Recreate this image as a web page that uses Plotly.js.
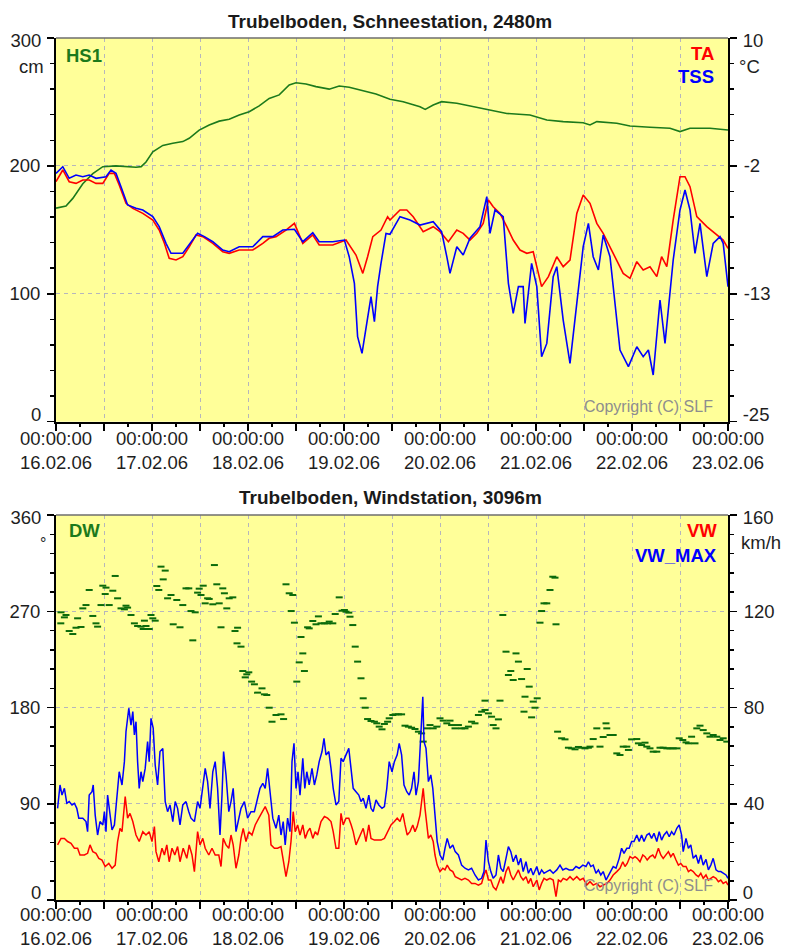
<!DOCTYPE html>
<html>
<head>
<meta charset="utf-8">
<script src="https://cdn.plot.ly/plotly-3.0.1.min.js"></script>
<style>html,body{margin:0;padding:0;background:#fff;}#chart{width:785px;height:948px;}</style>
</head>
<body>
<div id="chart"></div>
<script>
// ---------- DATA (hours since 16.02.06 00:00) ----------
const dayLabels = ['16.02.06','17.02.06','18.02.06','19.02.06','20.02.06','21.02.06','22.02.06','23.02.06'];

// Snow station: HS1 snow height (cm)
const hs1Hours = [0,2.5,4.2,6.7,9.2,11.7,15,20,21.3,22.5,24.2,26.7,29.2,31.7,33.3,35.8,38.3,40.8,43.3,45.8,48.3,50.8,53.3,55.8,58.3,60,62.5,65,68.3,70.8,73.3,76.7,80,83.5,86.8,91,92.3,94.3,96.4,100.2,104.3,108.5,112.7,118.5,122.7,126.8,131.8,133.5,135.2,140.2,143.5,148.5,153.5,156,158.5,163.5,168];
const hs1Values = [167,168.7,174.6,186,194,199.4,200,199,199.4,203,211,216,217.7,219,221.6,228,232,235,236.4,239.8,242.4,246.9,252.8,255.5,263.3,265,264,262,260,262.5,261.5,258.8,256.2,252.1,250.2,246.3,244.2,247.6,250.2,249,246.3,243.2,241,239.8,235.9,234.6,233.8,232,234.6,233.3,231.2,230.2,229.4,226.8,229.4,229.4,228.1];

// TA air temperature (°C)
const taHours = [0,1.7,3.3,5,6.7,8.3,10,11.7,13.3,14.6,15.8,17.5,19.2,21.7,24.2,25.8,27.1,28.3,30,31.7,33.3,35,36.7,39.2,41.7,43.3,45.8,49.2,51.7,53.3,55,57.5,59.6,61.7,64.2,65.8,69.2,72.5,75,76.7,77.9,79.2,81.25,82.9,
  83.5,86,87.7,89.3,91.8,94.3,96,98.1,100.2,101.8,103.5,105.2,106.8,108.1,109.3,111,112.7,114.3,116,117.7,119.3,121.4,123.1,125.2,126.8,128.5,130.2,131.8,133.5,135.2,136.8,139.3,141.8,143.5,145.2,146.8,148.5,150.2,151.4,152.7,154.3,156,157.25,158.5,160.2,162.7,165.2,166.8,168];
const taValues = [-3.11,-2.04,-3.11,-3.26,-2.95,-2.95,-3.26,-3.26,-2.35,-2.35,-3.41,-5.08,-5.54,-6.0,-6.6,-7.52,-8.73,-10.1,-10.25,-9.95,-9.04,-7.97,-8.12,-8.73,-9.49,-9.64,-9.34,-9.34,-8.73,-8.27,-8.12,-7.52,-6.91,-8.73,-7.97,-8.88,-8.88,-8.43,-9.8,-11.47,-9.95,-8.12,-7.52,-6.3,
  -6.6,-5.69,-5.69,-6.3,-7.67,-7.21,-7.67,-8.58,-7.52,-7.82,-8.43,-7.82,-6.91,-4.78,-5.39,-6.0,-7.21,-8.43,-9.34,-9.64,-9.49,-12.68,-11.77,-9.95,-10.86,-10.25,-6.0,-4.32,-5.08,-6.91,-7.82,-9.64,-11.47,-11.92,-10.4,-11.16,-10.86,-11.77,-9.95,-10.86,-6.6,-2.65,-2.65,-3.56,-6.3,-7.21,-7.97,-8.43,-9.19];

// TSS snow surface temperature (°C)
const tssHours = [0,1.7,3.3,5,6.7,8.3,10,12.5,13.75,15,16.25,17.9,20,21.7,24.2,25.8,27.5,28.75,31.7,33.3,35.4,37.1,39.2,41.7,43.3,45.8,49.2,51.7,54.2,56.7,59.6,61.7,64.2,65.8,69.2,72.1,73.3,74.6,75.4,76.5,77.5,78.75,79.6,80.4,81.25,82.5,
  83.5,86,88.5,91,94.3,96.4,97.7,98.5,100.2,101.8,103.5,106,107.7,108.5,109.75,111.8,113.1,114.3,115.6,116.8,117.25,118.9,120.2,121.4,122.7,124.3,125.2,126.8,128.5,130.2,131.8,133.1,134.3,135.6,136.8,138.5,141,143.1,145.2,146.8,148.1,149.3,151,152.25,154.3,156,157.25,158.5,159.75,161,162.7,164.3,166,166.8,168];
const tssValues = [-2.35,-1.74,-2.8,-2.5,-2.65,-2.5,-2.8,-2.65,-2.04,-2.35,-3.56,-5.23,-5.54,-5.69,-6.3,-7.21,-8.73,-9.64,-9.64,-8.88,-7.82,-8.12,-8.58,-9.34,-9.49,-9.04,-9.04,-8.12,-8.12,-7.52,-7.45,-8.58,-7.76,-8.58,-8.58,-8.43,-9.95,-12.38,-17.25,-18.77,-16.64,-13.6,-15.88,-12.68,-10.56,-7.82,
  -7.9,-6.3,-6.6,-7.06,-6.76,-7.67,-9.95,-11.47,-9.04,-9.8,-8.27,-7.21,-4.47,-7.82,-5.69,-6.3,-12.38,-15.12,-12.68,-12.68,-16.03,-10.56,-12.68,-19.07,-17.86,-11.77,-10.86,-15.73,-19.68,-14.2,-9.04,-6.91,-9.95,-11.16,-7.97,-9.95,-18.46,-19.98,-18.16,-19.07,-18.46,-20.74,-13.9,-17.86,-10.25,-5.69,-3.87,-5.69,-9.64,-6.91,-11.77,-8.73,-8.12,-8.73,-12.68];

// Wind station: DW wind direction (°)
const dwHours = [1.25,2.1,2.5,1.2,3.3,4.2,5,5.4,6.25,6.7,
  7.5,8.3,9.2,10,10.4,11.25,11.7,12.3,12.5,13.3,
  14.2,14.8,15.4,16.25,17.1,17.5,17.9,18.75,19.6,20.4,
  21.25,21.8,22.1,22.5,23.3,23.75,24.2,24.8,25.2,25.7,
  26.25,27.3,26.8,27.9,28.75,29.3,30.2,31,31.7,32.5,
  33.2,33.75,34.2,34.8,35.4,35.8,36.25,36.8,37.3,37.9,
  38.3,39.2,39.6,40.2,40.8,41.25,41.7,42.1,42.7,43.3,
  44.2,44.75,45.4,45.25,46.25,46.7,47.3,47.7,48.2,48.9,
  49.6,50.4,51.5,52.1,52.7,53.3,54,55,56.25,56.9,
  57.5,58.3,59.2,58.8,59.6,60.2,60.8,61.25,61.7,62.1,
  62.9,63.3,64.2,65,65.6,66.25,67.1,67.9,68.3,69.2,
  69.8,70.8,71.5,72.1,72.5,73.2,73.5,74.2,74.8,75.4,
  76.25,76.8,77.3,77.9,78.75,79.6,80.2,80.8,81.5,82.1,
  82.9,83.3,84.2,84.8,
  85.6,86.4,87.25,88.1,88.9,89.75,90.6,91.4,91.8,92.7,
  93.5,94.3,95.2,96,96.8,97.7,98.5,98.9,99.75,100.6,
  101.4,102.25,103.1,103.9,104.75,105.6,106.4,107.25,107.25,108.1,
  108.9,109.3,110,110.6,111,111.7,112.5,113.1,113.7,114.3,
  115,115.6,116.4,117.25,117,117.8,118.3,118.9,119.3,119.75,
  120.3,121,121.4,122,122.7,123.5,124.2,124.75,125,125.4,
  126.4,127.25,128.1,128.9,129.75,130.6,131.4,132.25,133.1,133.5,
  134.3,135.2,136,136.8,137.5,137.7,138.5,139.3,140.2,141,
  141.8,142.7,143.1,143.9,145.2,145.6,146.4,147.25,147.7,148.5,
  149.3,150.2,151,151.8,152.7,153.5,154.3,155.2,155.8,156.7,
  157.5,158.1,158.9,159.75,160.2,161,161.8,162.7,163.5,164.3,
  165.2,166,166.8,167.7];
const dwValues = [269,264.3,266.5,258.7,251.5,248.7,254.6,263.4,255.3,272.7,
  275.8,289.9,265.6,258.7,255.6,275.8,293.9,286.1,292.1,275.8,
  289.2,303,282.1,272.7,271.8,275.2,273.4,266.5,258.7,256.2,
  255.6,253.4,261.2,256.2,253.4,266.5,263.4,261.2,293.6,289.9,
  311.7,308,299.8,282.1,285.2,257.8,280.5,255,275.8,291.4,
  291.4,270.2,242.8,269,287.4,291.1,285.2,293.9,277.4,282.1,
  281.5,276.5,313.2,295.2,277.4,255,291.4,286.8,272.7,282.1,
  283,251.5,254.6,240,236.9,214.1,208.2,211,212.9,204.2,
  201.7,193.9,197.9,192.3,191.7,179.8,166.7,173,173.6,169.2,
  295.2,286.8,285.2,270.2,259.3,204.2,222.2,245.9,230.6,214.1,
  255,254,260.9,257.8,265.2,258.7,258.7,258.7,260.3,258.7,
  267.4,283,270.5,271.2,269.6,268.7,264.9,257.1,236.9,222.9,
  207.3,188.6,179.8,169.2,167.4,166.7,165.2,162.1,159.6,164.6,
  166.7,169.9,173,173.6,
  173.6,173.6,163,162.1,161.1,159.9,157.4,155.8,148.1,160.5,
  163.6,160.5,162.1,169.9,167.7,165.2,167.7,163.6,160.5,163.6,
  160.5,160.5,162.1,166.7,165.2,173,176.1,177.7,186.4,174.5,
  171.4,163.6,160.5,168.9,186.4,266.5,232.2,210.4,214.1,205.7,
  230.6,222.9,206.6,190.1,176.1,216,199.5,170.8,185.5,179.8,
  188.6,259.3,270.2,277.4,277.4,289.9,302.3,301.4,257.8,157.4,
  151.2,150.2,142.4,141.8,140.9,143.1,142.4,141.8,142.4,143.4,
  150.5,160.5,143.4,152.4,165.2,160.5,154.3,154.3,137.1,135.6,
  143.4,143.4,140.3,150.2,150.5,146.5,144.9,147.1,143.4,141.8,
  138.7,138.7,142.4,142.4,141.8,141.8,141.8,141.8,151.2,149.6,
  147.4,146.5,152.7,146.5,160.5,163,158.9,155.8,152.7,154.3,
  152.7,149.6,151.2,148.1];

// VW mean wind speed (km/h)
const vwHours = [0.4,1.25,2.1,2.9,3.75,4.6,5.4,6,7.1,7.9,
  8.5,9.2,10,10.7,11.5,12.3,13.2,14,14.8,15.4,
  16,16.5,17.3,17.9,18.5,19.2,20,20.8,21.7,22.5,
  23.3,24,24.6,25,25.7,26.5,27.1,27.7,28.3,29,
  29.7,30.4,31,31.8,32.7,33.3,34,34.6,35.4,36,
  36.7,37.3,38.2,39,39.8,40.7,41.25,41.8,42.5,43.2,
  43.75,44.3,45,45.7,46.25,46.8,47.5,48.2,49,49.8,
  50.7,51.5,52.3,53.2,53.75,54.6,55.4,56.25,57.1,57.5,
  58.2,58.75,59.3,59.8,60.4,61,61.7,62.3,62.9,63.5,
  64.2,64.8,65.4,66.25,67.1,67.9,68.75,69.3,70,70.7,
  71.25,71.8,72.5,73.2,73.8,74.3,75,75.7,76.25,76.8,
  77.5,78.2,78.75,79.6,80.4,81.25,82.1,82.9,83.75,84.6,
  85.3,86,86.7,87.25,87.8,88.5,89.2,89.75,90.3,91,
  91.4,91.8,92.25,92.7,93.1,93.7,94.3,94.75,95.3,96,
  96.7,97.25,97.8,98.5,99.2,99.8,100.6,101.4,102.25,103.1,
  103.9,104.75,105.6,106.4,107,107.5,108.1,108.7,109.3,110,
  110.6,111.2,111.8,112.5,113.1,113.7,114.3,115,115.6,116.2,
  116.8,117.5,118.1,118.7,119.3,120.2,120.8,121.4,122,122.7,
  123.5,124.3,125,125.6,126.2,126.8,127.7,128.5,129.3,130.2,
  131,131.8,132.7,133.5,134.3,135.2,136,136.8,137.7,138.5,
  139.3,140.2,141,141.7,142.25,142.8,143.5,144.2,144.75,145.3,
  146,146.7,147.25,147.8,148.5,149.2,149.75,150.6,151.2,151.8,
  152.5,153.1,153.7,154.3,155,155.6,156.2,156.8,157.5,158.1,
  158.7,159.3,160,160.6,161.2,161.8,162.5,163.1,163.7,164.3,
  165,165.6,166.2,166.8,167.5,168];
const vwValues = [22.9,25.6,25.6,24.3,23.6,21.5,21.5,18.7,18.7,19.4,
  22.9,20.1,19.4,17.3,16.6,13.9,15.2,13.2,14.5,24.3,
  29.8,28.4,43,34,36,32.6,27,24.3,28.4,27,
  28.4,24.3,30.5,20.1,15.9,21.5,18.7,22.9,15.9,21.5,
  18.7,22.2,15.9,21.5,17.3,22.9,18.7,11.8,28.4,22.9,
  25.6,21.5,18.7,21.5,18.7,18.7,13.9,25.6,22.9,21.5,
  27,22.9,13.2,18.7,25.6,29.8,24.3,28.4,27,31.2,
  34,36.7,38.8,35.3,22.9,21.5,21.5,22.2,14.5,9.7,
  15.9,24.3,36.7,28.4,31.2,27,31.2,25.6,28.4,29.8,
  25.6,28.4,27,32.6,34.7,34,32.6,28.4,21.5,21.5,
  36,31.2,34,34,31.2,28.4,22.9,25.6,27,29.8,
  24.3,31.2,25.6,24.9,24.9,24.9,25.6,28.4,31.2,32.6,
  34,32.6,36,31.2,27,28.4,31.2,28.4,30.5,35.3,
  40.9,46.4,38.1,32.6,25.6,27,24.3,18.7,14.5,11.8,
  13.2,12.5,14.5,12.5,11.8,9.7,9,8.3,9,8.3,
  6.9,6.9,6.2,6.9,10.4,12.5,8.3,8.3,5.5,4.2,
  6.9,9.7,6.9,11.8,13.9,10.4,8.3,10.4,12.5,9.7,
  8.3,9.7,6.9,9,5.5,8.3,4.2,6.9,9,8.3,
  9,8.3,1.4,8.3,7.6,9,8.3,9.7,8.3,9.7,
  8.3,9,6.2,7.6,6.2,6.9,5.5,6.2,6.9,8.3,
  10.4,11.8,13.2,15.9,13.9,15.2,18,17.3,18,17.3,
  15.9,18.7,18,16.6,18,18.7,17.3,21.5,18.7,17.3,
  18.7,20.1,18,19.4,16.6,14.5,15.2,13.9,13.9,11.8,
  12.5,11.8,10.4,9.7,11.1,9,10.4,8.3,9,9.7,
  9,7.6,8.3,6.9,7.6,6.2];

// VW_MAX gust wind speed (km/h)
const vwMaxHours = [0.4,1,1.5,2.1,2.7,3.3,4,4.6,5.2,5.7,
  6.7,7.5,7.9,8.3,9,9.3,9.8,10.4,11,11.7,
  12.1,12.5,12.9,13.5,14,14.6,15.25,15.8,16.5,17.1,
  17.5,18.2,18.75,19.2,19.6,20,20.4,20.8,21.25,21.7,
  22.3,22.9,23.3,23.75,24.3,24.8,25.4,26,26.7,27.3,
  27.9,28.5,29.2,29.8,30.4,31,31.7,32.5,33.2,33.75,
  34.6,35.4,36,36.7,37.3,37.9,38.5,39.2,39.8,40.4,
  41,41.5,41.9,42.5,43.2,43.75,44.3,45,45.7,46.25,
  47.1,47.9,48.75,49.6,50.4,51,51.7,52.3,52.9,53.5,
  54.2,55,55.7,56.25,56.8,57.3,57.9,58.5,59,59.5,
  60,60.5,61,61.7,62.2,62.7,63.3,64,64.6,65.2,
  65.8,66.5,67,67.5,68.2,68.75,69.3,70,70.7,71.25,
  71.8,72.5,73.2,73.75,74.3,75,75.7,76.25,76.8,77.5,
  78.2,78.75,79.3,80,80.7,81.5,82.1,82.7,83.3,84,
  84.6,
  85.3,85.8,86.4,87,87.7,88.3,88.9,89.5,90,90.6,
  91.2,91.7,92,92.5,93.1,93.7,94.2,94.75,95.3,96,
  96.7,97.25,97.8,98.5,99.2,99.8,100.6,101.4,102.25,103.1,
  103.9,104.75,105.6,106.4,107,107.5,108.1,108.7,109.3,110,
  110.6,111.2,111.8,112.5,113.1,113.7,114.3,115,115.6,116.2,
  116.8,117.5,118.1,118.7,119.3,120.2,120.8,121.4,122,122.7,
  123.5,124.3,125.2,126,126.7,127.5,128.3,129.2,130,130.8,
  131.7,132.5,133.1,133.7,134.3,135,135.6,136.2,136.8,137.5,
  138.1,138.7,139.3,140,140.8,141.4,142,142.7,143.3,143.9,
  144.5,145.2,145.8,146.4,147,147.7,148.3,148.9,149.5,150.2,
  150.8,151.4,152,152.7,153.3,153.9,154.5,155.2,155.8,156.4,
  156.8,157.5,158.1,158.7,159.3,160,160.6,161.2,161.8,162.5,
  163.1,163.7,164.3,165,165.6,166.2,166.8,167.5,168];
const vwMaxValues = [38.1,47.8,43.6,46.4,40.2,40.9,39.5,40.2,38.1,34,
  34,32.6,28.4,43.6,45,47.8,35.3,27,32.6,31.2,
  36.7,28.4,43.6,35.3,29.1,31.2,43.6,53.3,47.8,57.5,
  70,79.7,72.7,78.3,68.6,74.1,57.5,46.4,53.3,49.2,
  54.7,65.8,57.5,75.5,71.4,56.1,47.8,61.7,63,40.9,
  36.7,39.5,32.6,40.9,38.1,31.2,39.5,40.9,36.7,34,
  32.6,40.9,38.1,46.4,54.7,49.2,38.1,53.3,57.5,46.4,
  27,43.6,61.7,52,36.7,40.9,46.4,28.4,34,38.1,
  40.9,34,36.7,36.7,42.3,46.4,48.5,46.4,54.7,45,
  34,29.8,35.3,27,32.6,22.9,34,28.4,57.5,65.1,
  46.4,53.3,43.6,58.9,46.4,53.3,47.8,54.7,47.8,52,
  57.5,61.7,67.2,60.3,61.7,54.7,46.4,39.5,40.9,58.9,
  57.5,60.3,63,54.7,46.4,45,43.6,40.9,42.3,38.1,
  43.6,38.1,36.7,41.6,39.5,38.1,38.8,46.4,57.5,53.3,
  57.5,
  60.3,65.1,60.3,47.8,45,43.6,46.4,53.3,43.6,49.2,
  68.6,84.5,65.8,63,49.2,52,46.4,35.3,24.3,18.7,
  16.6,21.5,25.6,21.5,22.9,20.1,18.7,14.5,13.2,12.5,
  13.2,10.4,8.3,9,11.8,24.9,15.9,11.8,9,10.4,
  18.7,13.2,11.8,17.3,22.2,20.1,15.9,18.7,14.5,17.3,
  11.8,15.9,11.1,13.2,10.4,13.9,10.4,12.5,11.1,11.8,
  12.5,11.1,12.5,14.5,12.5,13.2,12.5,12.5,13.9,13.2,
  14.5,13.9,15.9,13.9,14.5,11.1,12.5,10.4,11.8,8.3,
  10.4,12.5,13.9,13.2,17.3,21.5,19.4,21.5,21.5,24.3,
  24.3,27,24.3,27,24.3,27,27.7,25.6,27.7,24.3,
  28.4,24.9,27,28.4,26.3,28.4,27,29.8,31.2,27,
  20.1,25.6,21.5,22.9,17.3,18.7,15.2,18.7,14.5,16.9,
  12.5,14.5,17.3,12.5,11.8,11.8,11.1,10.4,9];

// axis tick labels
const hsTicks = [0, 100, 200, 300];
const taTicks = [-25, -25 + 35 / 3, -25 + 70 / 3, 10];
const taTickText = ['-25', '-13', '-2', '10'];
const dwTicks = [0, 90, 180, 270, 360];
const vwTicks = [0, 40, 80, 120, 160];

// ---------- helpers ----------
const T0 = Date.UTC(2006, 1, 16);
function hd(h) { return new Date(T0 + Math.round(h * 3600000)).toISOString().replace('T', ' ').slice(0, 19); }
const tickVals = [], tickText = [];
for (let i = 0; i <= 14; i++) {
  tickVals.push(hd(i * 12));
  tickText.push(i % 2 === 0 ? '00:00:00<br>' + dayLabels[i / 2] : '');
}

const FONT = 'Liberation Sans, Arial, Helvetica, sans-serif';
const W = 785, H = 948;
const X0 = 56, X1 = 728;
const TOP = [38, 421.7], BOT = [515, 900];
const px = v => v / W, py = v => 1 - v / H;

const GREEN = '#1c7a1c', RED = '#ff0000', BLUE = '#0000ff';
const GRID = '#b6b6bc';
const tickFont = {family: FONT, size: 18.5, color: '#1e1e1e'};

function xAxis(anchor, standoff) {
  return {
    type: 'date', anchor: anchor, domain: [px(X0), px(X1)],
    range: [hd(0), hd(168)], tickmode: 'array', tickvals: tickVals, ticktext: tickText,
    ticks: 'outside', ticklen: 7, tickwidth: 1.5, tickcolor: '#000',
    showline: true, linecolor: '#000', linewidth: 2,
    showgrid: true, gridcolor: GRID, gridwidth: 1, griddash: '4px,4px',
    zeroline: false, tickfont: tickFont, fixedrange: true, ticklabelstandoff: standoff,
    minor: {dtick: 6 * 3600000, tick0: hd(0), ticks: 'outside', ticklen: 3, tickwidth: 1.5, tickcolor: '#000', showgrid: false}
  };
}
// middle labels only; the two edge labels come from edge axes
const midText = (vals, txt) => vals.map((v, i) => (i === 0 || i === vals.length - 1) ? '' : (txt ? txt[i] : String(v)));

function yLeft(anchor, dom, range, vals, minorD) {
  return {
    anchor: anchor, domain: dom, range: range, tickmode: 'array', tickvals: vals, ticktext: midText(vals),
    ticks: 'outside', ticklen: 7, tickwidth: 1.5, tickcolor: '#000',
    showline: true, linecolor: '#000', linewidth: 2,
    showgrid: true, gridcolor: GRID, gridwidth: 1, griddash: '4px,4px',
    zeroline: false, tickfont: tickFont, fixedrange: true, ticklabelstandoff: 3,
    minor: {dtick: minorD, tick0: 0, ticks: 'outside', ticklen: 4, tickwidth: 1.5, tickcolor: '#000', showgrid: false}
  };
}
function yRight(anchor, over, range, vals, txt, minorD) {
  return {
    anchor: anchor, overlaying: over, side: 'right', range: range,
    tickmode: 'array', tickvals: vals, ticktext: midText(vals, txt),
    ticks: 'outside', ticklen: 7, tickwidth: 1.5, tickcolor: '#000',
    showline: true, linecolor: '#000', linewidth: 2, showgrid: false,
    zeroline: false, tickfont: tickFont, fixedrange: true, ticklabelstandoff: 3,
    minor: {dtick: minorD, tick0: range[0], ticks: 'outside', ticklen: 4, tickwidth: 1.5, tickcolor: '#000', showgrid: false}
  };
}
// label-only axis for an edge tick value, shifted a little along the axis
function yEdge(anchor, over, side, range, val, txt, shift) {
  return {
    anchor: anchor, overlaying: over, side: side, range: range,
    tickmode: 'array', tickvals: [val], ticktext: [txt],
    ticks: 'outside', ticklen: 7, tickcolor: 'rgba(0,0,0,0)',
    showline: false, showgrid: false, zeroline: false, ticklabeloverflow: 'allow',
    tickfont: tickFont, fixedrange: true, ticklabelstandoff: 3, ticklabelshift: shift
  };
}

const traces = [
  {x: hs1Hours.map(hd), y: hs1Values, xaxis: 'x', yaxis: 'y', mode: 'lines', line: {color: GREEN, width: 1.6}, name: 'HS1'},
  {x: taHours.map(hd), y: taValues, xaxis: 'x', yaxis: 'y2', mode: 'lines', line: {color: RED, width: 1.6}, name: 'TA'},
  {x: tssHours.map(hd), y: tssValues, xaxis: 'x', yaxis: 'y2', mode: 'lines', line: {color: BLUE, width: 1.6}, name: 'TSS'},
  {x: dwHours.map(hd), y: dwValues, xaxis: 'x2', yaxis: 'y3', mode: 'markers',
   marker: {symbol: 'line-ew', size: 5, color: '#0b6b0b', line: {color: '#0b6b0b', width: 2}}, name: 'DW'},
  {x: vwHours.map(hd), y: vwValues, xaxis: 'x2', yaxis: 'y4', mode: 'lines', line: {color: RED, width: 1.5}, name: 'VW'},
  {x: vwMaxHours.map(hd), y: vwMaxValues, xaxis: 'x2', yaxis: 'y4', mode: 'lines', line: {color: BLUE, width: 1.5}, name: 'VW_MAX'}
];
// empty placeholder traces so the label-only edge axes are drawn
[['x', 'y5'], ['x', 'y6'], ['x', 'y7'], ['x', 'y8'], ['x2', 'y9'], ['x2', 'y10'], ['x2', 'y11'], ['x2', 'y12']].forEach(p => {
  traces.push({x: [], y: [], xaxis: p[0], yaxis: p[1], mode: 'lines', hoverinfo: 'skip', showlegend: false});
});

function ann(text, x, y, xanchor, font) {
  return {text: text, x: px(x), y: py(y), xref: 'paper', yref: 'paper', xanchor: xanchor, yanchor: 'middle', showarrow: false, font: font};
}
const bold = (c, s) => ({family: FONT, size: s, color: c, weight: 'bold'});
const plain = (c, s) => ({family: FONT, size: s, color: c});

const annotations = [
  ann('<b>Trubelboden, Schneestation, 2480m</b>', 390, 21, 'center', bold('#1a1a1a', 19)),
  ann('<b>Trubelboden, Windstation, 3096m</b>', 390, 497, 'center', bold('#1a1a1a', 19)),
  ann('<b>HS1</b>', 64, 55, 'left', bold(GREEN, 18.5)),
  ann('<b>TA</b>', 716, 54, 'right', bold(RED, 18.5)),
  ann('<b>TSS</b>', 716, 77, 'right', bold(BLUE, 18.5)),
  ann('<b>DW</b>', 67, 530, 'left', bold(GREEN, 18.5)),
  ann('<b>VW</b>', 719, 530, 'right', bold(RED, 18.5)),
  ann('<b>VW_MAX</b>', 719, 555, 'right', bold(BLUE, 18.5)),
  ann('cm', 46, 67, 'right', plain('#1e1e1e', 18.5)),
  ann('°C', 737, 66, 'left', plain('#1e1e1e', 18.5)),
  ann('°', 43, 543, 'center', plain('#1e1e1e', 16)),
  ann('km/h', 739, 542, 'left', plain('#1e1e1e', 18.5)),
  ann('Copyright (C) SLF', 715, 406.5, 'right', plain('#8e8e8e', 16)),
  ann('Copyright (C) SLF', 715, 885, 'right', plain('#8e8e8e', 16))
];

const shapes = [
  {type: 'line', xref: 'paper', yref: 'paper', x0: px(X0), x1: px(X1), y0: py(TOP[0]), y1: py(TOP[0]), line: {color: '#6e6e6e', width: 1.5}},
  {type: 'line', xref: 'paper', yref: 'paper', x0: px(X0), x1: px(X1), y0: py(BOT[0]), y1: py(BOT[0]), line: {color: '#6e6e6e', width: 1.5}}
];

// ticklabelshift on y axes: negative moves the label up, positive moves it down
const UP = -7, DOWN = 3;
const layout = {
  width: W, height: H, margin: {l: 0, r: 0, t: 0, b: 0},
  paper_bgcolor: '#ffffff', plot_bgcolor: '#ffff99',
  showlegend: false, font: {family: FONT},
  xaxis: xAxis('y', -8),
  xaxis2: xAxis('y3', -10),
  yaxis: yLeft('x', [py(TOP[1]), py(TOP[0])], [0, 300], hsTicks, 20),
  yaxis2: yRight('x', 'y', [-25, 10], taTicks, taTickText, 35 / 15),
  yaxis3: yLeft('x2', [py(BOT[1]), py(BOT[0])], [0, 360], dwTicks, 18),
  yaxis4: yRight('x2', 'y3', [0, 160], vwTicks, null, 8),
  yaxis5: yEdge('x', 'y', 'left', [0, 300], hsTicks[0], '0', UP),
  yaxis6: yEdge('x', 'y', 'left', [0, 300], hsTicks[3], '300', DOWN),
  yaxis7: yEdge('x', 'y', 'right', [-25, 10], taTicks[0], taTickText[0], UP),
  yaxis8: yEdge('x', 'y', 'right', [-25, 10], taTicks[3], taTickText[3], DOWN),
  yaxis9: yEdge('x2', 'y3', 'left', [0, 360], dwTicks[0], '0', UP),
  yaxis10: yEdge('x2', 'y3', 'left', [0, 360], dwTicks[4], '360', DOWN),
  yaxis11: yEdge('x2', 'y3', 'right', [0, 160], vwTicks[0], '0', UP),
  yaxis12: yEdge('x2', 'y3', 'right', [0, 160], vwTicks[4], '160', DOWN),
  annotations: annotations, shapes: shapes
};

Plotly.newPlot('chart', traces, layout, {displayModeBar: false, staticPlot: true});
</script>
</body>
</html>
